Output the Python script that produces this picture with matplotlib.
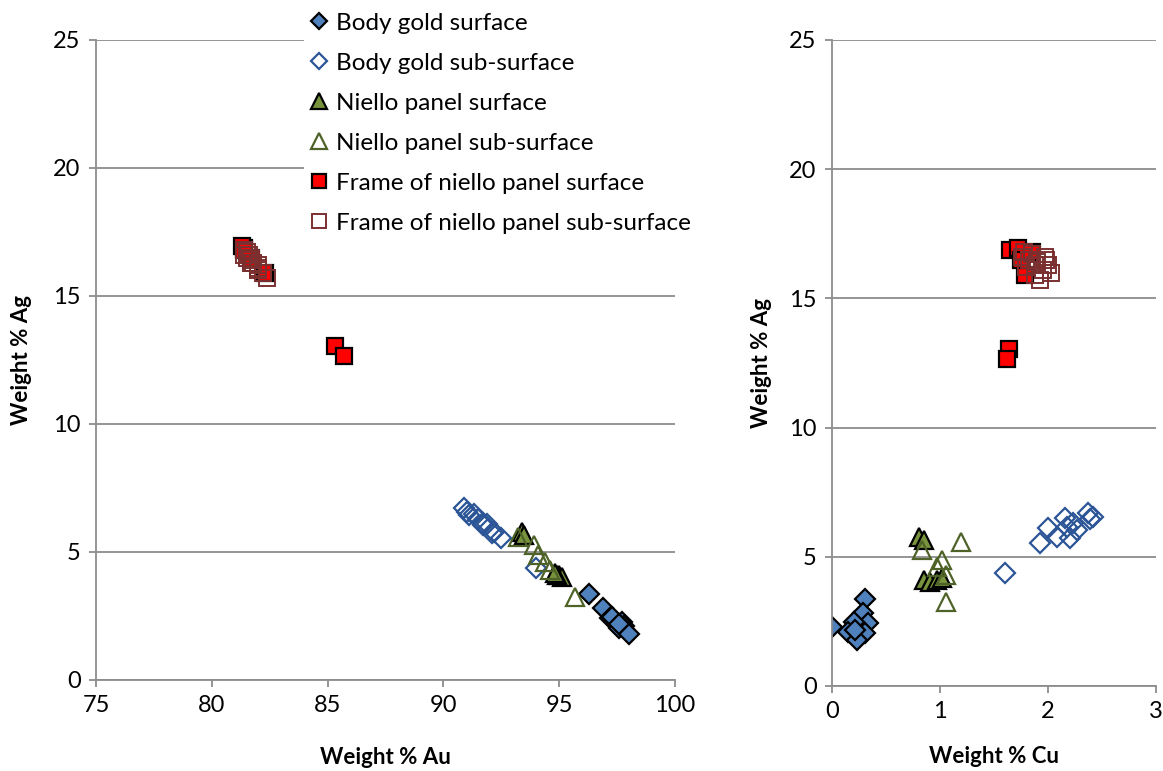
import matplotlib
matplotlib.use('Agg')
import matplotlib.pyplot as plt

plt.rcParams['font.family'] = ['Lato', 'DejaVu Sans']

# Body gold surface
body_s_au = [96.3, 96.9, 97.2, 97.7, 97.3, 97.6, 97.8, 98.0, 97.6]
body_s_ag = [3.37, 2.82, 2.44, 2.28, 2.48, 2.05, 2.09, 1.78, 2.17]
body_s_cu = [0.31, 0.29, 0.33, 0.00, 0.20, 0.31, 0.15, 0.23, 0.21]

# Body gold sub-surface
body_ss_au = [92.5, 91.9, 92.2, 91.3, 92.1, 91.5, 91.7, 90.9, 91.0, 91.1, 91.7, 94.0]
body_ss_ag = [5.53, 6.10, 5.77, 6.50, 5.73, 6.30, 6.15, 6.70, 6.55, 6.45, 6.05, 4.37]
body_ss_cu = [1.93, 2.00, 2.08, 2.16, 2.20, 2.23, 2.18, 2.37, 2.42, 2.39, 2.27, 1.60]

# Niello panel surface
niello_s_au = [93.4, 93.5, 95.0, 95.1, 94.9, 94.8]
niello_s_ag = [5.77, 5.65, 4.10, 4.02, 4.10, 4.18]
niello_s_cu = [0.81, 0.85, 0.85, 0.91, 0.97, 1.02]

# Niello panel sub-surface
niello_ss_au = [93.2, 93.9, 94.1, 94.4, 94.6, 95.7]
niello_ss_ag = [5.57, 5.26, 4.88, 4.60, 4.30, 3.25]
niello_ss_cu = [1.19, 0.83, 1.02, 0.97, 1.06, 1.06]

# Frame of niello panel surface
frame_s_au = [81.4, 81.3, 82.3, 81.7, 81.4, 85.3, 85.7]
frame_s_ag = [16.87, 16.95, 15.90, 16.50, 16.80, 13.05, 12.65]
frame_s_cu = [1.65, 1.72, 1.79, 1.75, 1.85, 1.64, 1.62]

# Frame of niello panel sub-surface
frame_ss_au = [81.4, 81.5, 81.7, 81.7, 81.4, 81.7, 82.0, 82.2, 82.0, 82.0, 82.4, 81.5, 81.6, 81.8]
frame_ss_ag = [16.8, 16.7, 16.5, 16.4, 16.6, 16.3, 16.1, 15.9, 16.2, 16.0, 15.7, 16.5, 16.6, 16.3]
frame_ss_cu = [1.78, 1.85, 1.82, 1.90, 1.97, 2.00, 1.95, 1.88, 1.80, 2.03, 1.93, 1.98, 1.76, 1.88]

series = [
    ("Body gold surface", body_s_au, body_s_ag, body_s_cu,
     dict(marker='D', ms=10, mfc='#4F81BD', mec='black', mew=1.6)),
    ("Body gold sub-surface", body_ss_au, body_ss_ag, body_ss_cu,
     dict(marker='D', ms=10, mfc='none', mec='#2C5597', mew=1.6)),
    ("Niello panel surface", niello_s_au, niello_s_ag, niello_s_cu,
     dict(marker='^', ms=13, mfc='#77933C', mec='black', mew=1.6)),
    ("Niello panel sub-surface", niello_ss_au, niello_ss_ag, niello_ss_cu,
     dict(marker='^', ms=13, mfc='none', mec='#4F6228', mew=1.6)),
    ("Frame of niello panel surface", frame_s_au, frame_s_ag, frame_s_cu,
     dict(marker='s', ms=11.5, mfc='#FF0000', mec='black', mew=1.6)),
    ("Frame of niello panel sub-surface", frame_ss_au, frame_ss_ag, frame_ss_cu,
     dict(marker='s', ms=11.5, mfc='none', mec='#7B3030', mew=1.4)),
]

fig = plt.figure(figsize=(11.63, 7.71), dpi=100)
ax1 = fig.add_axes([96 / 1163, 91 / 771, 579 / 1163, 640 / 771])
ax2 = fig.add_axes([832 / 1163, 85 / 771, 324 / 1163, 646 / 771])

grid_col = '#8C8C8C'
for ax in (ax1, ax2):
    ax.set_ylim(0, 25)
    ax.set_yticks([0, 5, 10, 15, 20, 25])
    ax.yaxis.grid(True, color=grid_col, linewidth=1.3)
    ax.set_axisbelow(True)
    for side in ('top', 'right'):
        ax.spines[side].set_visible(False)
    for side in ('left', 'bottom'):
        ax.spines[side].set_color(grid_col)
        ax.spines[side].set_linewidth(1.3)
    ax.tick_params(axis='both', direction='out', length=5, width=1.3,
                   color=grid_col, labelsize=17, pad=6)
    ax.set_ylabel('Weight % Ag', fontsize=16, fontweight='bold')

for name, au, ag, cu, st in series:
    ax1.plot(au, ag, linestyle='none', label=name, **st)
    ax2.plot(cu, ag, linestyle='none', **st)

ax1.set_xlim(75, 100)
ax1.set_xticks([75, 80, 85, 90, 95, 100])
ax1.set_xlabel('Weight % Au', fontsize=16, fontweight='bold', labelpad=22)
ax1.yaxis.set_label_coords(-0.11, 0.5)

ax2.set_xlim(0, 3)
ax2.set_xticks([0, 1, 2, 3])
ax2.set_xlabel('Weight % Cu', fontsize=16, fontweight='bold', labelpad=17)
ax2.yaxis.set_label_coords(-0.185, 0.5)

leg = ax1.legend(loc='upper left', bbox_to_anchor=(0.36, 1.05), fontsize=17.5,
                 frameon=True, facecolor='white', edgecolor='none', framealpha=1,
                 handlelength=0.8, handletextpad=0.3, labelspacing=0.78,
                 borderpad=0.2, borderaxespad=0, markerscale=0.85)
leg.set_zorder(5)

fig.savefig('out.png', dpi=100, facecolor='white')
